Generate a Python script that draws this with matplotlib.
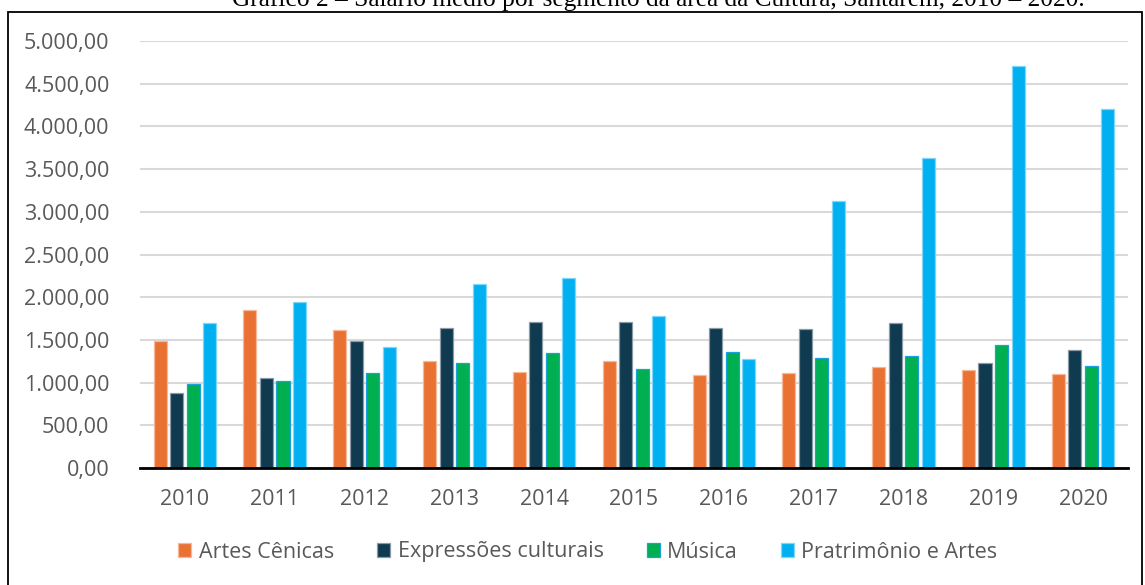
import matplotlib
matplotlib.use("Agg")
import matplotlib.pyplot as plt
import numpy as np
from matplotlib.patches import Rectangle

years = ["2010", "2011", "2012", "2013", "2014", "2015", "2016", "2017", "2018", "2019", "2020"]
artes_cenicas = [1487, 1845, 1612, 1258, 1128, 1255, 1090, 1108, 1185, 1145, 1097]
expressoes = [877, 1058, 1492, 1639, 1714, 1714, 1636, 1624, 1700, 1230, 1378]
musica = [982, 1015, 1112, 1224, 1347, 1165, 1362, 1292, 1315, 1444, 1191]
patrimonio = [1700, 1940, 1418, 2155, 2222, 1780, 1273, 3127, 3627, 4708, 4204]
series_names = ["Artes Cênicas", "Expressões culturais", "Música", "Pratrimônio e Artes"]
yticks = [0, 500, 1000, 1500, 2000, 2500, 3000, 3500, 4000, 4500, 5000]
title = "Gráfico 2 – Salário médio por segmento da área da Cultura, Santarém, 2010 – 2020."

colors = ["#E97132", "#0F3A4F", "#00B050", "#00B0F0"]
edges = ["#F5B99A", "#8A9BA6", "#1A9FE0", "#7FD6F7"]

W, H = 1145, 585
fig = plt.figure(figsize=(W / 100, H / 100), dpi=100)
plt.rcParams['font.family'] = ['Open Sans', 'DejaVu Sans']

# frame box
fig.patches.append(Rectangle((8 / W, -0.01), (1142 - 8) / W, 1 - 12 / H + 0.01,
                             transform=fig.transFigure, fill=False,
                             edgecolor="black", linewidth=1.3))

fig.text(658 / W, 1 - 6 / H, title, ha="center", va="baseline",
         fontsize=18.3, family=["Liberation Serif"], color="black")

ax = fig.add_axes([140 / W, 1 - 468 / H, 988 / W, (468 - 41) / H])
x = np.arange(len(years))
bw = 0.145
step = 0.184
data = [artes_cenicas, expressoes, musica, patrimonio]
for i, (vals, c, e, name) in enumerate(zip(data, colors, edges, series_names)):
    ax.bar(x + (i - 1.5) * step, vals, width=bw, color=c, edgecolor=e,
           linewidth=0.9, label=name, zorder=3)

ax.set_xlim(-0.5, len(years) - 0.5)
ax.set_ylim(0, 5000)
ax.set_yticks(yticks)
ax.set_yticklabels([f"{v:,.2f}".replace(",", "X").replace(".", ",").replace("X", ".") for v in yticks])
ax.set_xticks(x)
ax.set_xticklabels(years)
ax.tick_params(axis="both", length=0, labelsize=15.5, colors="#595959")
ax.tick_params(axis="y", pad=22)
ax.tick_params(axis="x", pad=15)
ax.grid(axis="y", color="#D9D9D9", linewidth=1.5, zorder=0)
ax.set_axisbelow(True)
for s in ["top", "right", "left"]:
    ax.spines[s].set_visible(False)
ax.spines["bottom"].set_color("black")
ax.spines["bottom"].set_linewidth(2)
ax.spines["bottom"].set_zorder(4)

fig.legend(loc="center", bbox_to_anchor=(588 / W, 1 - 552 / H), ncol=4,
           frameon=False, fontsize=15.5, handlelength=0.6, handleheight=0.6,
           handletextpad=0.35, columnspacing=2.0, labelcolor="#595959")

fig.savefig("out.png", dpi=100)
